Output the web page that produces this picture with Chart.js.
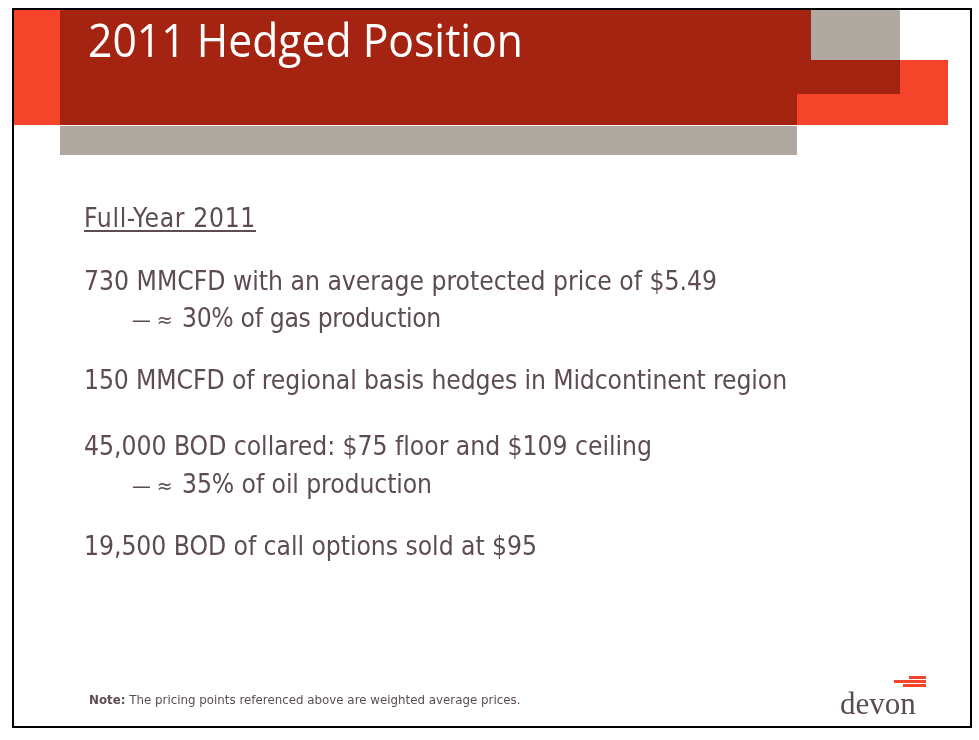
<!DOCTYPE html>
<html>
<head>
<meta charset="utf-8">
<script src="https://cdn.jsdelivr.net/npm/chart.js@4"></script>
<style>
  html, body { margin: 0; padding: 0; background: #fff; }
  #slide { position: relative; width: 979px; height: 740px; overflow: hidden; }
  #frame { position: absolute; left: 0; top: 0; }
  .txt { position: absolute; white-space: nowrap; line-height: 1; color: #5e4d50;
         font-family: "DejaVu Sans Condensed", "DejaVu Sans", sans-serif; font-size: 24px; }
  .marker { font-size: 0.8em; }
  #title { color: #fff; font-family: "Open Sans", sans-serif; font-size: 45px; left: 88px; top: 17px;
           transform-origin: 0 0; }
  #heading { text-decoration: underline; text-underline-offset: 3px; text-decoration-thickness: 1.5px; }
  #note { font-family: "DejaVu Sans", sans-serif; font-size: 12px; left: 89px; top: 695px; }
  #note b { font-weight: bold; }
  #logo { font-family: "Liberation Serif", serif; font-size: 31px; left: 840px; top: 688px; color: #5b4b52; }
</style>
</head>
<body>
<div id="slide">
  <canvas id="frame" width="979" height="740"></canvas>
  <div id="title" class="txt"></div>
  <div id="heading" class="txt"></div>
  <div id="lines"></div>
  <div id="note" class="txt"></div>
  <div id="logo" class="txt"></div>
</div>
<script>
// slide text
const title = '2011 Hedged Position'
const heading = 'Full-Year 2011'
const bulletLines = [
  '730 MMCFD with an average protected price of $5.49',
  '— ≈ 30% of gas production',
  '150 MMCFD of regional basis hedges in Midcontinent region',
  '45,000 BOD collared: $75 floor and $109 ceiling',
  '— ≈ 35% of oil production',
  '19,500 BOD of call options sold at $95'
]
const bulletLevels = [0, 1, 0, 0, 1, 0]
const noteLabel = 'Note:'
const noteText = ' The pricing points referenced above are weighted average prices.'
const logoText = 'devon'

// layout: baselines and right edges in px (heading first)
const baselines = [227, 290, 327, 389, 455, 493, 555]
const rightEdges = [256, 717, 441, 787, 652, 432, 537]

document.getElementById('title').textContent = title
const h = document.getElementById('heading')
h.textContent = heading
h.style.left = '84px'

const linesEl = document.getElementById('lines')
const bodyEls = [h]
const markerEls = []
bulletLines.forEach((t, i) => {
  const d = document.createElement('div')
  d.className = 'txt'
  if (bulletLevels[i]) {
    // sub-bullet: small "— ≈" marker, then the text
    const m = document.createElement('div')
    m.className = 'txt'
    const ms = document.createElement('span')
    ms.className = 'marker'
    ms.textContent = t.slice(0, 3)
    m.appendChild(ms)
    m.style.left = '132px'
    linesEl.appendChild(m)
    markerEls.push([m, i + 1])
    d.textContent = t.slice(4)
    d.style.left = '182px'
  } else {
    d.textContent = t
    d.style.left = '84px'
  }
  linesEl.appendChild(d)
  bodyEls.push(d)
})

const n = document.getElementById('note')
const b = document.createElement('b')
b.textContent = noteLabel
n.appendChild(b)
n.appendChild(document.createTextNode(noteText))
document.getElementById('logo').textContent = logoText

// header blocks and frame drawn by a Chart.js plugin
const blocks = [
  { x: 14, y: 10, w: 46, h: 115, c: '#f4452a' },
  { x: 60, y: 10, w: 751, h: 115, c: '#a42311' },
  { x: 811, y: 60, w: 89, h: 34, c: '#a42311' },
  { x: 797, y: 94, w: 151, h: 31, c: '#f4452a' },
  { x: 900, y: 60, w: 48, h: 65, c: '#f4452a' },
  { x: 811, y: 10, w: 89, h: 50, c: '#afa9a2' },
  { x: 60, y: 126, w: 737, h: 29, c: '#afa9a2' }
]
const stripes = [
  { x: 909, y: 676, w: 17, h: 3 },
  { x: 894, y: 680, w: 32, h: 3 },
  { x: 903, y: 684, w: 23, h: 3 }
]

const slidePlugin = {
  id: 'slideFrame',
  beforeDraw(chart) {
    const ctx = chart.ctx
    ctx.save()
    ctx.fillStyle = '#fff'
    ctx.fillRect(0, 0, chart.width, chart.height)
    blocks.forEach(r => {
      ctx.fillStyle = r.c
      ctx.fillRect(r.x, r.y, r.w, r.h)
    })
    ctx.fillStyle = '#f4452a'
    stripes.forEach(r => ctx.fillRect(r.x, r.y, r.w, r.h))
    ctx.strokeStyle = '#000'
    ctx.lineWidth = 2
    ctx.strokeRect(13, 9, 958, 718)
    ctx.restore()
  }
}

new Chart(document.getElementById('frame'), {
  type: 'bar',
  data: { labels: [], datasets: [] },
  options: {
    responsive: false,
    animation: false,
    plugins: { legend: { display: false }, tooltip: { enabled: false } },
    scales: { x: { display: false }, y: { display: false } }
  },
  plugins: [slidePlugin]
})

// fit title and body widths to the reference
const t = document.getElementById('title')
t.style.transform = 'scaleX(' + (435 / t.getBoundingClientRect().width) + ')'
const w1 = bodyEls[1].getBoundingClientRect().width
const fs = 24 * 633 / w1
bodyEls.forEach((el, i) => {
  el.style.fontSize = fs + 'px'
  el.style.top = (baselines[i] - 0.846 * fs) + 'px'
  const r = el.getBoundingClientRect()
  const chars = el.textContent.length
  el.style.letterSpacing = ((rightEdges[i] - r.right) / chars) + 'px'
})
markerEls.forEach(([m, i]) => {
  m.style.fontSize = fs + 'px'
  m.style.top = (baselines[i] - 0.846 * fs) + 'px'
})
const nw = n.getBoundingClientRect().width
n.style.fontSize = (12 * 432 / nw) + 'px'
</script>
</body>
</html>
